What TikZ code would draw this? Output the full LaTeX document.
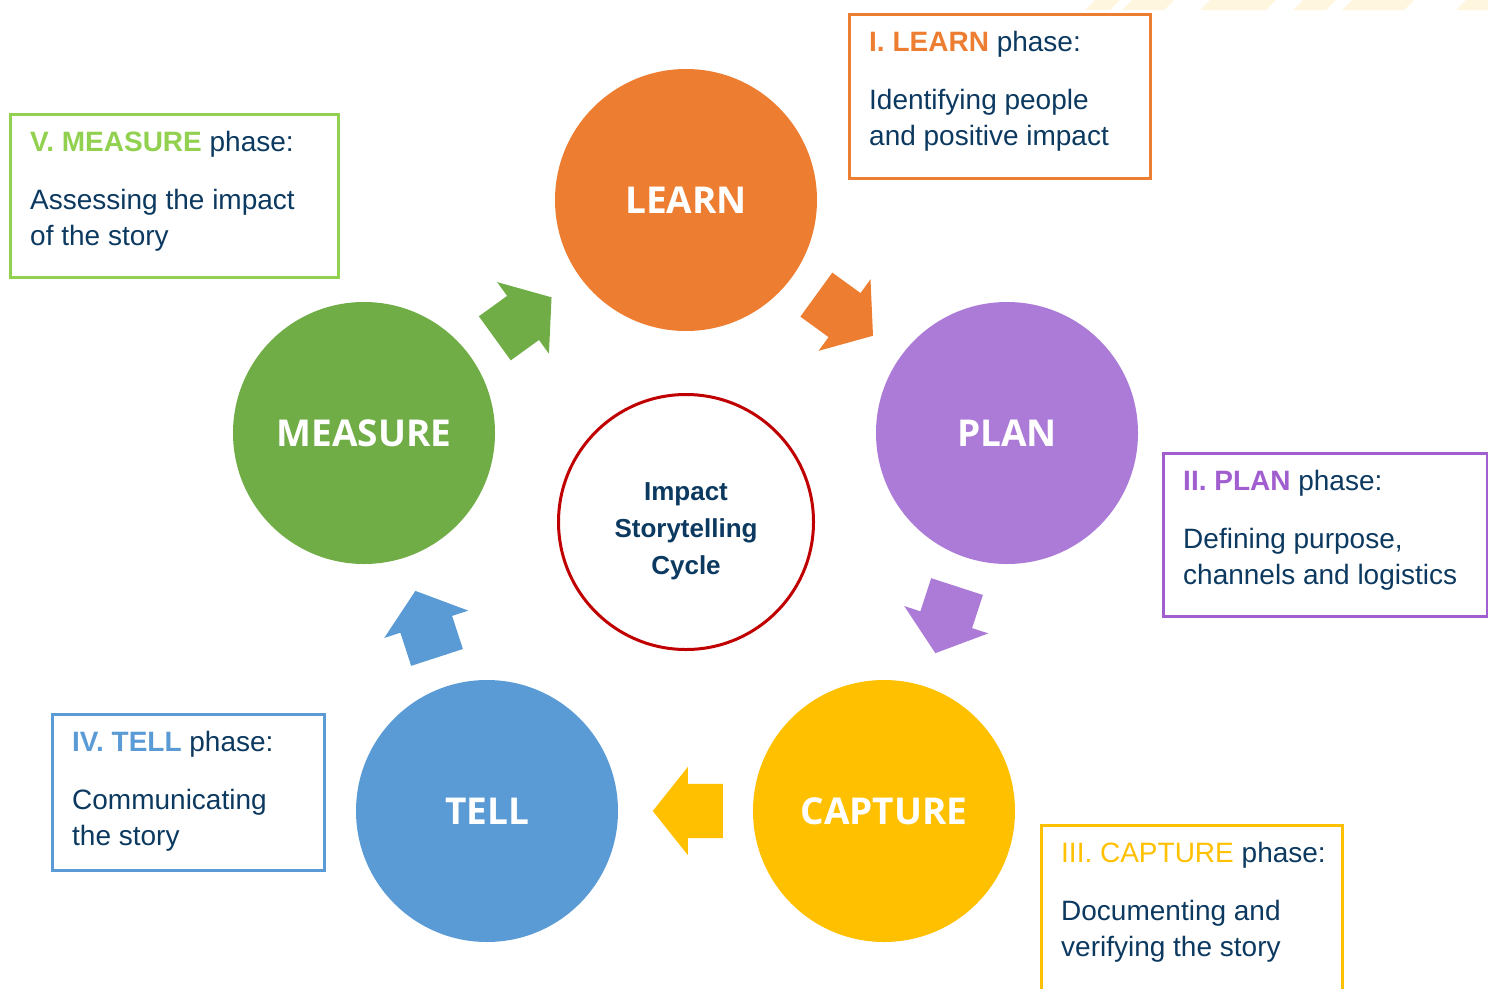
\documentclass[tikz,border=0pt]{standalone}
\usepackage{fontspec}
\setmainfont{Liberation Sans}
\newfontfamily\labelfont{Open Sans}
\usetikzlibrary{arrows.meta, positioning, calc, shapes.arrows}
\definecolor{scOrange}{RGB}{237,125,49}
\definecolor{scPurple}{RGB}{171,123,215}
\definecolor{scYellow}{RGB}{255,192,0}
\definecolor{scBlue}{RGB}{91,155,213}
\definecolor{scGreen}{RGB}{112,173,71}
\definecolor{scLime}{RGB}{146,208,80}
\definecolor{scViolet}{RGB}{160,94,207}
\definecolor{scRed}{RGB}{192,0,0}
\definecolor{scNavy}{RGB}{12,57,96}
\definecolor{scStripe}{RGB}{255,246,224}

\begin{document}
\begin{tikzpicture}[
    x=1pt, y=-1pt, font=\fontsize{28}{34}\selectfont,
    phase/.style={circle, minimum size=262pt, inner sep=0pt, text=white,
                  font=\labelfont\bfseries\fontsize{37}{44}\selectfont},
    phasebox/.style={draw=#1, line width=3pt, anchor=north west, inner sep=0pt},
    boxtext/.style={anchor=base west, inner sep=0pt, text=scNavy},
    cyclearrow/.style={single arrow, draw=none, inner xsep=0pt, inner ysep=27pt,
                       minimum width=0pt, minimum height=70pt, anchor=tip,
                       single arrow head extend=17pt, single arrow tip angle=103}
]
\clip (0,0) rectangle (1488,988);

% faint stripes along the top edge
\foreach \a/\b in {1095/1120, 1132/1174, 1210/1276, 1303/1336, 1352/1414, 1466/1500} {
   \fill[scStripe] (\a,0) -- (\b,0) -- (\b-10,10) -- (\a-10,10) -- cycle;
}

% the five phases
\foreach \name/\col/\x/\y/\lbl in {learn/scOrange/686/200/LEARN,
                                   plan/scPurple/1007/433/PLAN,
                                   capture/scYellow/884/811/CAPTURE,
                                   tell/scBlue/487/811/TELL,
                                   measure/scGreen/364/433/MEASURE} {
   \node[phase, fill=\col] (\name) at (\x,\y) {\lbl};
}

% centre of the cycle
\node[circle, draw=scRed, line width=3pt, fill=white, minimum size=255pt]
     (core) at (686,522) {};
\node[align=center, text=scNavy, font=\bfseries\fontsize{26}{37}\selectfont]
     (core-label) at (686,531) {Impact\\Storytelling\\Cycle};

% block arrows between neighbouring phases
\foreach \a/\b/\col in {learn/plan/scOrange, plan/capture/scPurple,
                        capture/tell/scYellow, tell/measure/scBlue,
                        measure/learn/scGreen} {
   \path let \p1=($(\b)-(\a)$), \n1={atan2(\y1,\x1)} in
      node[cyclearrow, fill=\col, rotate=\n1] (\a-arrow)
          at ($($(\a)!0.5!(\b)$)!33pt!(\b)$) {};
}

% description boxes
\foreach \name/\col/\x/\y/\w/\h/\head/\one/\two in {
   learn/scOrange/848/13/301/164/{\textbf{I. LEARN}}/{Identifying people}/{and positive impact},
   plan/scViolet/1162/452/324/163/{\textbf{II. PLAN}}/{Defining purpose,}/{channels and logistics},
   capture/scYellow/1040/824/301/190/{III. CAPTURE}/{Documenting and}/{verifying the story},
   tell/scBlue/51/713/272/156/{\textbf{IV. TELL}}/{Communicating}/{the story},
   measure/scLime/9/113/328/163/{\textbf{V. MEASURE}}/{Assessing the impact}/{of the story}} {
   \node[phasebox=\col, minimum width=\w pt, minimum height=\h pt] (\name-box) at (\x,\y) {};
   \node[boxtext] (\name-head) at (\x+21,\y+38) {\textcolor{\col}{\head} phase:};
   \node[boxtext] (\name-one) at (\x+21,\y+96) {\one};
   \node[boxtext] (\name-two) at (\x+21,\y+132) {\two};
}
\end{tikzpicture}
\end{document}
